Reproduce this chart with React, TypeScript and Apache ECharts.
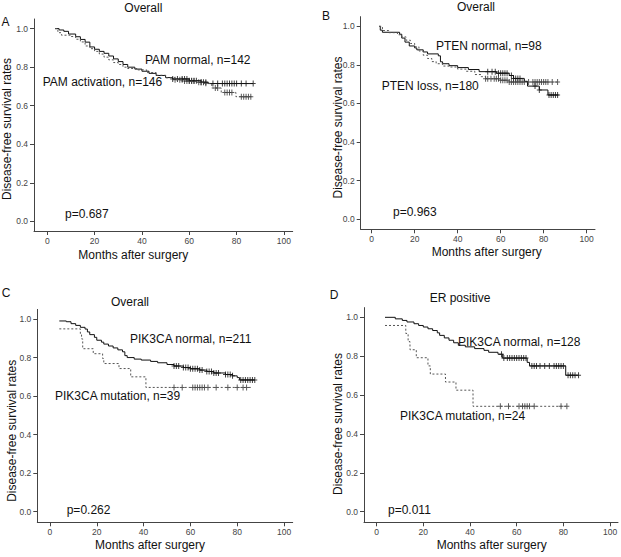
import React, { useEffect, useRef } from "react";
import * as echarts from "echarts";

// ---------- DATA ----------
const monthTicks = [0, 20, 40, 60, 80, 100];
const survTicks = [0, 0.2, 0.4, 0.6, 0.8, 1.0];

const panelLetters = ["A", "B", "C", "D"];
const panelTitles = ["Overall", "Overall", "Overall", "ER positive"];
const solidLabels = ["PAM normal, n=142", "PTEN normal, n=98", "PIK3CA normal, n=211", "PIK3CA normal, n=128"];
const dashedLabels = ["PAM activation, n=146", "PTEN loss, n=180", "PIK3CA mutation, n=39", "PIK3CA mutation, n=24"];
const pValues = ["p=0.687", "p=0.963", "p=0.262", "p=0.011"];

// Kaplan-Meier steps: [month, survival]
const pamNormal = [[3.3, 1.0], [5, 0.993], [7, 0.986], [9, 0.972], [12, 0.958], [14, 0.944], [16, 0.93], [18, 0.905], [20, 0.893], [22, 0.882], [24, 0.872], [26, 0.858], [28, 0.843], [30, 0.829], [32, 0.814], [34, 0.8], [37, 0.79], [40, 0.779], [43, 0.768], [46, 0.757], [50, 0.746], [53, 0.739], [60, 0.73], [65, 0.722], [68, 0.715], [87, 0.715]];
const pamNormalCensor = [53, 55, 57, 58, 59, 60, 61, 62, 63, 65, 66, 67, 70, 72, 74, 75, 76, 77, 78, 79, 80, 82, 84, 87];
const pamActivation = [[3.3, 1.0], [4.5, 0.979], [6, 0.966], [10, 0.959], [12, 0.945], [14, 0.931], [16, 0.91], [18, 0.896], [20, 0.882], [22, 0.868], [24, 0.852], [26, 0.838], [28, 0.824], [30, 0.814], [32, 0.8], [34, 0.793], [38, 0.786], [42, 0.772], [46, 0.758], [50, 0.745], [54, 0.735], [58, 0.728], [63, 0.722], [66, 0.716], [69.5, 0.692], [73.5, 0.669], [79.7, 0.647], [86.4, 0.647]];
const pamActivationCensor = [54, 56, 57, 58, 59, 60, 61, 62, 64, 65, 67, 71, 72, 75, 76, 77, 78, 82, 83, 84, 85, 86];

const ptenNormal = [[3.5, 1.0], [4, 0.98], [5, 0.969], [13, 0.959], [14, 0.939], [15.5, 0.918], [17.5, 0.898], [20, 0.888], [21, 0.878], [24, 0.867], [26, 0.857], [31, 0.847], [32, 0.816], [33, 0.806], [36, 0.796], [40, 0.786], [45, 0.776], [50, 0.765], [58, 0.757], [64, 0.745], [66, 0.73], [71, 0.715], [72.5, 0.69], [78, 0.67], [82, 0.644], [87, 0.644]];
const ptenNormalCensor = [54, 56, 57.5, 59, 60, 61, 62, 63, 65, 66, 67, 68, 69, 76, 78, 82.5, 83.5, 84.5, 85.5, 86.5];
const ptenLoss = [[3.5, 1.0], [5, 0.978], [8, 0.967], [12, 0.956], [14, 0.945], [16, 0.928], [18, 0.911], [20, 0.894], [22, 0.872], [24, 0.85], [26, 0.833], [28, 0.817], [30, 0.806], [33, 0.794], [36, 0.789], [40, 0.778], [44, 0.767], [48, 0.75], [51, 0.739], [53, 0.728], [60, 0.72], [64, 0.711], [87, 0.711]];
const ptenLossCensor = [53, 54, 55.5, 57, 58, 59, 60, 61, 62, 63, 64, 65, 66, 67, 68, 69, 70, 71, 73, 75, 76, 77, 78, 79, 80, 81, 82, 84, 86.5];

const pikNormalAll = [[4, 0.99], [7, 0.986], [9, 0.976], [11, 0.967], [13, 0.957], [15, 0.948], [16, 0.933], [17, 0.919], [19, 0.905], [20, 0.89], [22, 0.88], [23, 0.87], [25, 0.86], [27, 0.85], [29, 0.84], [31, 0.83], [32, 0.81], [33, 0.8], [36, 0.792], [39, 0.787], [43, 0.78], [46, 0.773], [50, 0.764], [53, 0.756], [57, 0.748], [60, 0.742], [64, 0.735], [67, 0.728], [70, 0.72], [75, 0.712], [78, 0.705], [80, 0.696], [81, 0.684], [87.5, 0.684]];
const pikNormalAllCensor = [53, 54, 55, 57, 58, 59, 60, 61, 62, 63, 64, 65, 67, 68, 69, 70, 71, 72, 75, 76, 77, 78, 81.5, 82.5, 83.5, 84.5, 85.5, 86.5, 87.5];
const pikMutAll = [[4, 0.949], [13, 0.923], [13.5, 0.897], [14, 0.846], [18.5, 0.82], [22.5, 0.795], [23, 0.769], [29.5, 0.743], [34.5, 0.7], [41, 0.645], [86, 0.645]];
const pikMutAllCensor = [53, 56.5, 61, 62, 63, 64, 65, 66, 67.5, 71, 76, 80, 82.5, 84];

const pikNormalEr = [[3.6, 1.0], [8, 0.992], [11, 0.984], [13, 0.976], [16, 0.967], [18, 0.958], [20, 0.95], [22, 0.941], [24, 0.932], [26, 0.92], [27, 0.907], [29, 0.894], [31, 0.882], [33, 0.869], [35, 0.856], [38, 0.848], [42, 0.839], [46, 0.83], [48, 0.82], [52, 0.81], [54, 0.79], [64.5, 0.768], [65.5, 0.75], [81, 0.702], [86.5, 0.702]];
const pikNormalErCensor = [53.5, 54.5, 56, 57, 58, 59, 60, 61, 62, 63, 64, 66.5, 67.5, 68.5, 70, 72, 74, 76, 77, 78, 79, 80, 82, 83, 84, 85, 86.5];
const pikMutEr = [[3.6, 0.958], [12.5, 0.917], [13.5, 0.875], [14.3, 0.833], [17, 0.792], [22, 0.75], [23, 0.708], [29.5, 0.667], [34, 0.625], [41.3, 0.542], [82, 0.542]];
const pikMutErCensor = [53, 56.5, 61, 62.5, 63.5, 64.5, 65.5, 67.5, 79, 81.5];

// ---------- LAYOUT ----------
const FONT = "'Liberation Sans', Arial, Helvetica, sans-serif";
const grids = [
  { left: 34, top: 19, width: 258.7, height: 212 },
  { left: 360.7, top: 16.65, width: 234.3, height: 212.65 },
  { left: 37.3, top: 309.4, width: 255.4, height: 212.9 },
  { left: 364, top: 307.6, width: 254, height: 214.7 },
];
const xRanges = [[-5.6, 103.7], [-5.1, 103.9], [-5.4, 103.7], [-5.4, 103.4]];
const yRanges = [[-0.05, 1.05], [-0.052, 1.05], [-0.055, 1.05], [-0.055, 1.05]];
const letterPos = [[5.5, 21.7], [326, 16], [6, 293.3], [334, 295]];
const titlePos = [[143.3, 7.5], [476, 7], [130, 301.7], [460, 298.3]];
const yTitlePos = [[6.5, 129], [337.7, 127.5], [12.3, 430.8], [337.7, 424]];
const xTitlePos = [[133.3, 254.5], [486.7, 252], [150, 544.5], [491.7, 544.5]];
const solidLabelPos = [[145, 60], [436, 46], [130, 339.3], [458, 341.7]];
const dashedLabelPos = [[42.7, 82], [381.7, 86], [55, 396], [400, 416]];
const pPos = [[65, 214], [393, 212], [66.7, 510], [388, 509.5]];

const curves = [
  [pamNormal, pamNormalCensor, pamActivation, pamActivationCensor],
  [ptenNormal, ptenNormalCensor, ptenLoss, ptenLossCensor],
  [pikNormalAll, pikNormalAllCensor, pikMutAll, pikMutAllCensor],
  [pikNormalEr, pikNormalErCensor, pikMutEr, pikMutErCensor],
];

const PLUS = "path://M2,0H3V2.5H5V3.5H3V6H2V3.5H0V2.5H2Z";

function stepAt(curve: number[][], t: number): number {
  let v = curve[0][1];
  for (const p of curve) {
    if (p[0] <= t) v = p[1];
    else break;
  }
  return v;
}

function text(x: number, y: number, s: string, opts: any = {}) {
  return {
    type: "text",
    x,
    y,
    rotation: opts.rotation || 0,
    silent: true,
    style: {
      text: s,
      font: `${opts.size || 12}px ${FONT}`,
      fill: opts.fill || "#111",
      textAlign: opts.align || "left",
      textVerticalAlign: "middle",
    },
  };
}

function buildOption() {
  const xAxis: any[] = [];
  const yAxis: any[] = [];
  const series: any[] = [];
  const graphic: any[] = [];
  for (let i = 0; i < 4; i++) {
    xAxis.push({
      type: "value",
      gridIndex: i,
      min: xRanges[i][0],
      max: xRanges[i][1],
      splitLine: { show: false },
      axisLine: { show: true, onZero: false, lineStyle: { color: "#444", width: 1 } },
      axisTick: { show: true, length: 4, customValues: monthTicks, lineStyle: { color: "#444" } },
      axisLabel: { customValues: monthTicks, fontSize: 8.5, color: "#444", margin: 5, fontFamily: FONT },
    });
    yAxis.push({
      type: "value",
      gridIndex: i,
      min: yRanges[i][0],
      max: yRanges[i][1],
      splitLine: { show: false },
      axisLine: { show: true, onZero: false, lineStyle: { color: "#444", width: 1 } },
      axisTick: { show: true, length: 4, customValues: survTicks, lineStyle: { color: "#444" } },
      axisLabel: {
        customValues: survTicks,
        fontSize: 8.5,
        color: "#444",
        margin: 6,
        fontFamily: FONT,
        formatter: (v: number) => v.toFixed(1),
      },
    });
    const [solid, solidC, dashed, dashedC] = curves[i];
    series.push({
      type: "line",
      xAxisIndex: i,
      yAxisIndex: i,
      step: "end",
      data: solid,
      showSymbol: false,
      lineStyle: { color: "#111", width: 1 },
      silent: true,
    });
    series.push({
      type: "line",
      xAxisIndex: i,
      yAxisIndex: i,
      step: "end",
      data: dashed,
      showSymbol: false,
      lineStyle: { color: "#555", width: 1, type: [2, 2] },
      silent: true,
    });
    series.push({
      type: "scatter",
      xAxisIndex: i,
      yAxisIndex: i,
      data: (solidC as number[]).map((t) => [t, stepAt(solid as number[][], t)]),
      symbol: PLUS,
      symbolSize: [5, 6],
      itemStyle: { color: "#111" },
      silent: true,
    });
    series.push({
      type: "scatter",
      xAxisIndex: i,
      yAxisIndex: i,
      data: (dashedC as number[]).map((t) => [t, stepAt(dashed as number[][], t)]),
      symbol: PLUS,
      symbolSize: [5, 6],
      itemStyle: { color: "#333" },
      silent: true,
    });

    graphic.push(text(letterPos[i][0], letterPos[i][1], panelLetters[i], { align: "center" }));
    graphic.push(text(titlePos[i][0], titlePos[i][1], panelTitles[i], { align: "center" }));
    graphic.push(text(yTitlePos[i][0], yTitlePos[i][1], "Disease-free survival rates", { align: "center", rotation: Math.PI / 2 }));
    graphic.push(text(xTitlePos[i][0], xTitlePos[i][1], "Months after surgery", { align: "center" }));
    graphic.push(text(solidLabelPos[i][0], solidLabelPos[i][1], solidLabels[i]));
    graphic.push(text(dashedLabelPos[i][0], dashedLabelPos[i][1], dashedLabels[i]));
    graphic.push(text(pPos[i][0], pPos[i][1], pValues[i]));
  }
  return {
    animation: false,
    backgroundColor: "#ffffff",
    grid: grids.map((g) => ({ ...g, containLabel: false, outerBoundsMode: "none" })),
    xAxis,
    yAxis,
    series,
    graphic,
  };
}

export default function App() {
  const ref = useRef<HTMLDivElement>(null);
  useEffect(() => {
    if (!ref.current) return;
    const chart = echarts.init(ref.current, undefined, { renderer: "svg" });
    chart.setOption(buildOption() as any);
    return () => chart.dispose();
  }, []);
  return (
    <div
      ref={ref}
      style={{ position: "fixed", left: 0, top: 0, width: 621, height: 557, background: "#fff" }}
    />
  );
}
